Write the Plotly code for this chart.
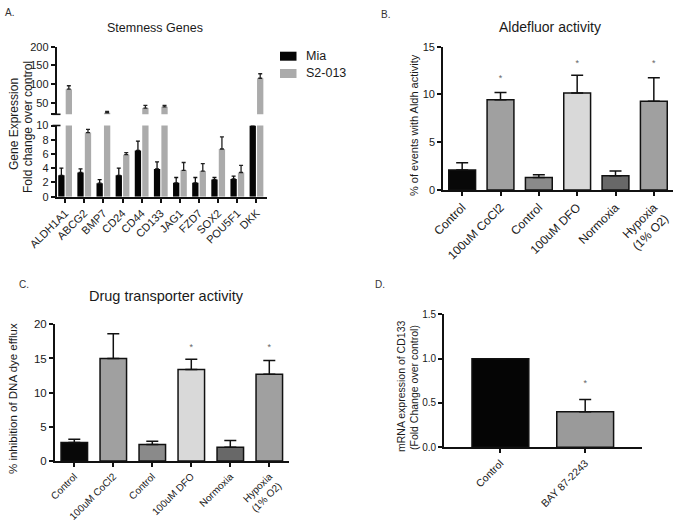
import plotly.graph_objects as go

W, H = 675, 522
FONT = "Liberation Sans, Arial, sans-serif"

# ---------------- Data ----------------
# Panel A: stemness genes
genes = ["ALDH1A1", "ABCG2", "BMP7", "CD24", "CD44", "CD133", "JAG1", "FZD7", "SOX2", "POU5F1", "DKK"]
mia = [3.0, 3.4, 1.9, 3.0, 6.5, 3.9, 1.95, 1.95, 2.4, 2.5, 10.0]
mia_err = [1.0, 0.5, 0.5, 1.0, 1.3, 1.0, 0.75, 0.75, 0.3, 0.4, 0.0]
s2 = [87.0, 9.0, 24.0, 5.9, 36.5, 40.0, 3.7, 3.6, 6.7, 3.4, 116.0]
s2_err = [9.0, 0.45, 3.5, 0.3, 7.0, 3.5, 1.1, 1.05, 1.7, 1.0, 12.0]
a_lower_ticks = [0, 2, 4, 6, 8, 10]
a_upper_ticks = [20, 50, 100, 150, 200]
a_upper_labels = ["", "50", "100", "150", "200"]

# Panel B: Aldefluor activity
conds = ["Control", "100uM CoCl2", "Control", "100uM DFO", "Normoxia", "Hypoxia<br>(1% O2)"]
aldh = [2.1, 9.45, 1.3, 10.15, 1.5, 9.3]
aldh_err = [0.75, 0.75, 0.3, 1.85, 0.5, 2.45]
aldh_sig = [None, 11.6, None, 13.2, None, 13.2]
b_ticks = [0, 5, 10, 15]

# Panel C: Drug transporter activity
drug = [2.7, 15.0, 2.4, 13.4, 2.0, 12.7]
drug_err = [0.5, 3.6, 0.5, 1.5, 1.0, 2.0]
drug_sig = [None, 20.6, None, 16.5, None, 16.5]
c_ticks = [0, 5, 10, 15, 20]

# Panel D: CD133 mRNA
d_cats = ["Control", "BAY 87-2243"]
cd133 = [1.0, 0.4]
cd133_err = [0.0, 0.14]
d_sig = [None, 0.72]
d_ticks = [0.0, 0.5, 1.0, 1.5]
d_ticklabels = ["0.0", "0.5", "1.0", "1.5"]

# colours
MIA_C = "#050505"
S2_C = "#ababab"
cond_colors = ["#080808", "#a0a0a0", "#8a8a8a", "#d9d9d9", "#686868", "#a0a0a0"]
d_colors = ["#050505", "#9a9a9a"]


def px(x):
    return x / W


def py(y):
    return 1 - y / H


def nz(vals):
    return [v if v else None for v in vals]


fig = go.Figure()

# ---------------- Panel A ----------------
xa = list(range(len(genes)))
for yref in ["y", "y2"]:
    fig.add_trace(go.Bar(
        x=xa, y=mia, xaxis="x", yaxis=yref, width=0.33, offset=-0.36,
        marker=dict(color=MIA_C, line=dict(width=0)),
        error_y=dict(type="data", symmetric=False, array=nz(mia_err), arrayminus=[0] * len(mia),
                     color="#111", thickness=1.3, width=2),
        showlegend=False, name="Mia"))
    fig.add_trace(go.Bar(
        x=xa, y=s2, xaxis="x", yaxis=yref, width=0.33, offset=0.03,
        marker=dict(color=S2_C, line=dict(width=0)),
        error_y=dict(type="data", symmetric=False, array=nz(s2_err), arrayminus=[0] * len(s2),
                     color="#222", thickness=1.3, width=2),
        showlegend=False, name="S2-013"))


def panel_bars(xname, yname, vals, errs, colors, sig, width):
    xs = list(range(len(vals)))
    fig.add_trace(go.Bar(
        x=xs, y=vals, xaxis=xname, yaxis=yname, width=width,
        marker=dict(color=colors, line=dict(color="#111", width=1.5)),
        error_y=dict(type="data", symmetric=False, array=nz(errs), arrayminus=[0] * len(vals),
                     color="#111", thickness=1.5, width=6),
        showlegend=False))
    fig.add_trace(go.Scatter(
        x=xs, y=sig, xaxis=xname, yaxis=yname, mode="text",
        text=["*" if s is not None else "" for s in sig],
        textposition="middle center", textfont=dict(size=9, color="#666", family=FONT),
        showlegend=False, hoverinfo="skip"))


panel_bars("x3", "y3", aldh, aldh_err, cond_colors, aldh_sig, 0.7)
panel_bars("x4", "y4", drug, drug_err, cond_colors, drug_sig, 0.68)
panel_bars("x5", "y5", cd133, cd133_err, d_colors, d_sig, 0.67)

axis_common = dict(showline=True, linecolor="#111", linewidth=1.6, ticks="outside",
                   ticklen=4, tickwidth=1.5, tickcolor="#111", showgrid=False, zeroline=False,
                   automargin=False)


def xdom(a, b):
    return [px(a), px(b)]


def ydom(top, bottom):
    return [py(bottom), py(top)]


fig.update_layout(
    template="none",
    width=W, height=H, margin=dict(l=0, r=0, t=0, b=0, autoexpand=False),
    paper_bgcolor="white", plot_bgcolor="white",
    font=dict(family=FONT, color="#1a1a1a"),
    showlegend=False,
    # Panel A
    xaxis=dict(domain=xdom(56.5, 267), range=[-0.45, 10.55], anchor="y",
               tickvals=xa, ticktext=genes, tickangle=-45, tickfont=dict(size=11), **axis_common),
    yaxis=dict(domain=ydom(125.5, 196.7), range=[0, 10], anchor="x", tickvals=a_lower_ticks,
               tickfont=dict(size=11), **axis_common),
    yaxis2=dict(domain=ydom(46.7, 114.3), range=[20, 200], anchor="x", tickvals=a_upper_ticks,
                ticktext=a_upper_labels, tickfont=dict(size=11), **axis_common),
    # Panel B
    xaxis3=dict(domain=xdom(443, 673), range=[-0.5, 5.5], anchor="y3",
                tickvals=list(range(len(conds))), ticktext=conds, tickangle=-45,
                tickfont=dict(size=12), **axis_common),
    yaxis3=dict(domain=ydom(46.7, 190), range=[0, 15], anchor="x3", tickvals=b_ticks,
                tickfont=dict(size=11), **axis_common),
    # Panel C
    xaxis4=dict(domain=xdom(54.8, 288.8), range=[-0.5, 5.5], anchor="y4",
                tickvals=list(range(len(conds))), ticktext=conds, tickangle=-45,
                tickfont=dict(size=10), **axis_common),
    yaxis4=dict(domain=ydom(324.3, 461), range=[0, 20], anchor="x4", tickvals=c_ticks,
                tickfont=dict(size=11.5), **axis_common),
    # Panel D
    xaxis5=dict(domain=xdom(444, 642), range=[-0.665, 1.67], anchor="y5",
                tickvals=list(range(len(d_cats))), ticktext=d_cats, tickangle=-45,
                tickfont=dict(size=10.5), **axis_common),
    yaxis5=dict(domain=ydom(314.3, 447.3), range=[0, 1.5], anchor="x5", tickvals=d_ticks,
                ticktext=d_ticklabels, tickfont=dict(size=10), **axis_common),
)

annotations = []


def text(x, y, s, size, angle=0, xanchor="center", color="#1a1a1a"):
    annotations.append(dict(x=px(x), y=py(y), xref="paper", yref="paper", text=s,
                            showarrow=False, textangle=angle, xanchor=xanchor, yanchor="middle",
                            font=dict(size=size, family=FONT, color=color)))


# panel letters
text(3, 13, "A.", 10, xanchor="left", color="#333")
text(379, 14, "B.", 10, xanchor="left", color="#333")
text(17, 284, "C.", 10, xanchor="left", color="#333")
text(373, 284, "D.", 10, xanchor="left", color="#333")
# titles
text(155, 28, "Stemness Genes", 12.5)
text(550, 27, "Aldefluor activity", 14)
text(166, 296, "Drug transporter activity", 14.5)
# y-axis titles
text(14, 124, "Gene Expression", 12, angle=-90)
text(28, 127, "Fold change over control", 12, angle=-90)
text(414, 125, "% of events with Aldh activity", 11, angle=-90)
text(13, 399, "% inhibition of DNA dye efflux", 11.5, angle=-90)
text(401, 387, "mRNA expression of CD133", 10.5, angle=-90)
text(414, 387, "(Fold Change over control)", 10.5, angle=-90)
# manual legend for panel A
text(304, 56, "Mia", 12.5, xanchor="left")
text(304, 73.5, "S2-013", 12.5, xanchor="left")
fig.update_layout(annotations=annotations)

ax_x = 56.5
fig.update_layout(shapes=[
    dict(type="rect", xref="paper", yref="paper", x0=px(280), x1=px(296.5), y0=py(60.7), y1=py(51.7),
         fillcolor=MIA_C, line=dict(width=0)),
    dict(type="rect", xref="paper", yref="paper", x0=px(280), x1=px(296.5), y0=py(78), y1=py(69),
         fillcolor=S2_C, line=dict(width=0)),
    # axis-break crossbars on panel A
    dict(type="line", xref="paper", yref="paper", x0=px(ax_x - 4), x1=px(ax_x + 4),
         y0=py(114.3), y1=py(114.3), line=dict(color="#111", width=1.6)),
    dict(type="line", xref="paper", yref="paper", x0=px(ax_x - 4), x1=px(ax_x + 4),
         y0=py(125.5), y1=py(125.5), line=dict(color="#111", width=1.6)),
])

# remove the browser's default 8px body margin so the figure sits at the window's top-left corner
fig.write_html("out.html", config={"displayModeBar": False},
               post_script="document.body.style.margin='0px';")
